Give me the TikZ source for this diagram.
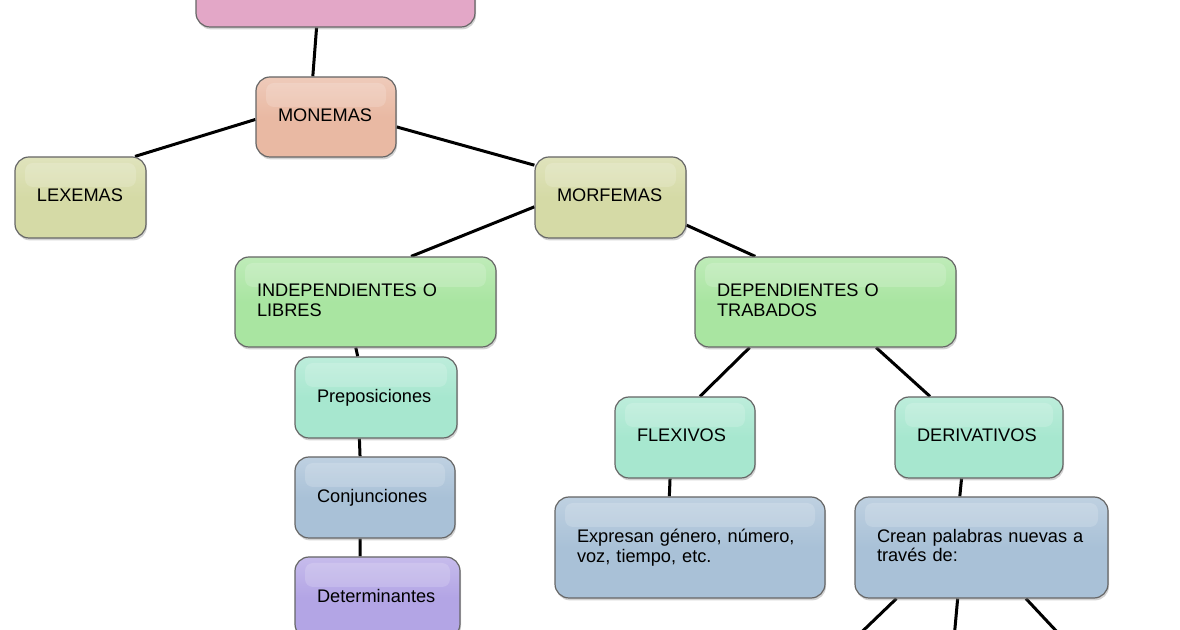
\documentclass[tikz,border=0pt]{standalone}
\usepackage{fontspec}
\setmainfont{Liberation Sans}
\usetikzlibrary{shadows,backgrounds}
\definecolor{rootpink}{HTML}{E3A7C7}
\definecolor{salmon}{HTML}{E9B9A3}
\definecolor{olive}{HTML}{D5DAA6}
\definecolor{leaf}{HTML}{A9E5A1}
\definecolor{mint}{HTML}{A7E7CF}
\definecolor{steel}{HTML}{A9C1D7}
\definecolor{lavender}{HTML}{B3A5E5}
\newcommand{\conceptfont}{\fontsize{9.1}{9.9}\selectfont}
\tikzset{
  concept/.style={draw=black!60, line width=0.6pt, rounded corners=7pt,
    top color=#1!75!white, bottom color=#1, middle color=#1,
    drop shadow={shadow xshift=0.5pt, shadow yshift=-1.2pt, opacity=0.35},
    inner xsep=11pt, inner ysep=0pt, align=left, font=\conceptfont,
    path picture={\fill[white, opacity=0.17, rounded corners=4pt]
      ([xshift=5pt,yshift=-3pt]path picture bounding box.north west) rectangle
      ([xshift=-5pt,yshift=-15pt]path picture bounding box.north east);}},
  link/.style={line width=1.5pt, black}
}
% name, x, y, width, height (px), colour, text
\newcommand{\concept}[7]{%
  \pgfmathsetmacro{\boxw}{#4*0.5}%
  \pgfmathsetmacro{\boxh}{#5*0.5}%
  \pgfmathsetmacro{\boxtw}{(#4-44)*0.5}%
  \node[concept=#6, minimum width=\boxw pt, minimum height=\boxh pt,
    text width=\boxtw pt] (#1) at (#2,#3) {#7\rule[-2pt]{0pt}{2pt}};
}

\begin{document}
\begin{tikzpicture}[x=0.5pt,y=-0.5pt]
  \useasboundingbox (0,0) rectangle (1180,630);

  \concept{raiz}{335.5}{-13}{279}{80}{rootpink}{}
  \concept{monemas}{326}{117}{140}{80}{salmon}{MONEMAS}
  \concept{lexemas}{80.5}{197.5}{131}{81}{olive}{LEXEMAS}
  \concept{morfemas}{610.5}{197.5}{151}{81}{olive}{MORFEMAS}
  \concept{independientes}{365.5}{302}{261}{90}{leaf}{INDEPENDIENTES O\\LIBRES}
  \concept{dependientes}{825.5}{302}{261}{90}{leaf}{DEPENDIENTES O\\TRABADOS}
  \concept{preposiciones}{376}{397.5}{162}{81}{mint}{Preposiciones}
  \concept{conjunciones}{375}{497.5}{160}{81}{steel}{Conjunciones}
  \concept{determinantes}{377.5}{597.5}{165}{81}{lavender}{Determinantes}
  \concept{flexivos}{685}{437.5}{140}{81}{mint}{FLEXIVOS}
  \concept{derivativos}{979}{437.5}{168}{81}{mint}{DERIVATIVOS}
  \concept{expresan}{690}{547.5}{270}{101}{steel}{Expresan género, número,\\voz, tiempo, etc.}
  \concept{crean}{981.5}{547.5}{253}{101}{steel}{Crean palabras nuevas a\\través de:}

  % ramas que siguen fuera del recorte
  \coordinate (creanA) at (843,650);
  \coordinate (creanB) at (953,650);
  \coordinate (creanC) at (1074,650);

  \begin{scope}[on background layer]
    \draw[link] (raiz.245) -- (monemas.108);
    \draw[link] (monemas.182) -- (lexemas.37);
    \draw[link] (monemas.352) -- (morfemas.157);
    \draw[link] (morfemas.187) -- (independientes.45);
    \draw[link] (morfemas.340) -- (dependientes.147);
    \draw[link] (independientes.258) -- (preposiciones.114);
    \draw[link] (preposiciones.248) -- (conjunciones.110);
    \draw[link] (conjunciones.250) -- (determinantes.113);
    \draw[link] (dependientes.211) -- (flexivos.70);
    \draw[link] (dependientes.318) -- (derivativos.140);
    \draw[link] (flexivos.250) -- (expresan.112);
    \draw[link] (derivativos.247) -- (crean.113);
    \draw[link] (crean.211) -- (creanA);
    \draw[link] (crean.245) -- (creanB);
    \draw[link] (crean.311) -- (creanC);
  \end{scope}
\end{tikzpicture}
\end{document}
